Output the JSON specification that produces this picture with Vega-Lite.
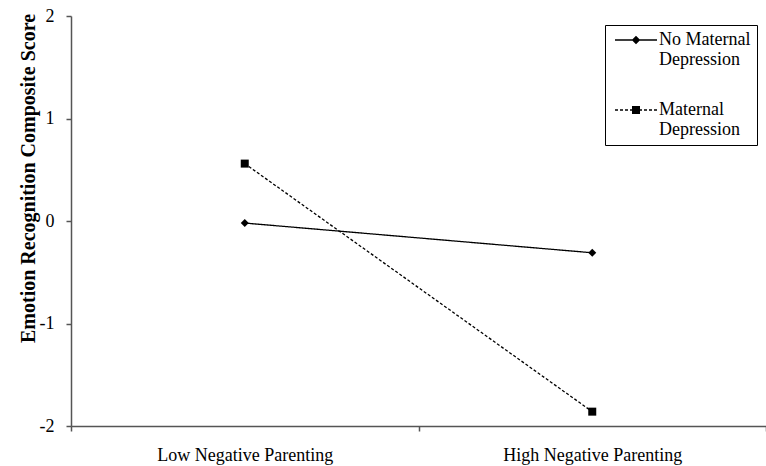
{
  "$schema": "https://vega.github.io/schema/vega-lite/v6.json",
  "width": 695,
  "height": 410,
  "autosize": {"type": "none"},
  "padding": {"left": 71, "top": 16, "right": 0, "bottom": 40},
  "background": "white",
  "config": {
    "view": {"stroke": null},
    "font": "Liberation Serif",
    "axis": {"labelFont": "Liberation Serif", "titleFont": "Liberation Serif", "labelColor": "black", "titleColor": "black", "domainColor": "#555", "tickColor": "#555", "domainWidth": 1.5, "tickWidth": 1.5},
    "legend": {"labelFont": "Liberation Serif"}
  },
  "data": {
    "values": [
      {"parenting": "Low Negative Parenting", "group": "No Maternal Depression", "score": -0.02},
      {"parenting": "High Negative Parenting", "group": "No Maternal Depression", "score": -0.31},
      {"parenting": "Low Negative Parenting", "group": "Maternal Depression", "score": 0.56},
      {"parenting": "High Negative Parenting", "group": "Maternal Depression", "score": -1.86}
    ]
  },
  "encoding": {
    "x": {
      "field": "parenting",
      "type": "nominal",
      "sort": ["Low Negative Parenting", "High Negative Parenting"],
      "scale": {"type": "band", "paddingInner": 0, "paddingOuter": 0},
      "axis": {"title": null, "labelAngle": 0, "labelFontSize": 18, "labelPadding": 15, "tickSize": 5, "tickBand": "extent", "grid": false}
    },
    "y": {
      "field": "score",
      "type": "quantitative",
      "scale": {"domain": [-2, 2], "nice": false, "zero": false},
      "axis": {
        "values": [-2, -1, 0, 1, 2],
        "grid": false,
        "tickSize": 5,
        "labelPadding": 12,
        "labelFontSize": 18,
        "labelExpr": "'' + datum.value",
        "title": "Emotion Recognition Composite Score",
        "titleFontSize": 20,
        "titleFontWeight": "bold",
        "titleAngle": -90,
        "titleX": -43,
        "titleY": 162,
        "titleAlign": "center",
        "titleBaseline": "middle"
      }
    }
  },
  "layer": [
    {
      "mark": {"type": "line", "color": "black", "strokeWidth": 1.3},
      "encoding": {
        "detail": {"field": "group", "type": "nominal"},
        "strokeDash": {"condition": {"test": "datum.group == 'Maternal Depression'", "value": [3, 2]}, "value": [1, 0]}
      }
    },
    {
      "mark": {"type": "point", "filled": true, "color": "black", "opacity": 1, "size": 64},
      "encoding": {
        "shape": {"condition": {"test": "datum.group == 'Maternal Depression'", "value": "square"}, "value": "diamond"}
      }
    },
    {
      "mark": {"type": "point", "filled": true, "color": "black", "opacity": 0},
      "encoding": {
        "shape": {
          "field": "group",
          "type": "nominal",
          "scale": {
            "domain": ["No Maternal Depression", "Maternal Depression"],
            "range": [
              "M-4.2,-0.13L4.2,-0.13L4.2,0.13L-4.2,0.13ZM0,-0.85L0.85,0L0,0.85L-0.85,0Z",
              "M-4.2,-0.13L-3.6,-0.13L-3.6,0.13L-4.2,0.13ZM-3.2,-0.13L-2.6,-0.13L-2.6,0.13L-3.2,0.13ZM-2.2,-0.13L-1.6,-0.13L-1.6,0.13L-2.2,0.13ZM-1.2,-0.13L-0.6,-0.13L-0.6,0.13L-1.2,0.13ZM0.6,-0.13L1.2,-0.13L1.2,0.13L0.6,0.13ZM1.6,-0.13L2.2,-0.13L2.2,0.13L1.6,0.13ZM2.6,-0.13L3.2,-0.13L3.2,0.13L2.6,0.13ZM3.6,-0.13L4.2,-0.13L4.2,0.13L3.6,0.13ZM-0.8,-0.8L0.8,-0.8L0.8,0.8L-0.8,0.8Z"
            ]
          },
          "legend": {
            "title": null,
            "orient": "none",
            "legendX": 534,
            "legendY": 9,
            "strokeColor": "black",
            "fillColor": "white",
            "padding": 6,
            "rowPadding": 32,
            "symbolSize": 100,
            "symbolOffset": 16,
            "symbolOpacity": 1,
            "symbolFillColor": "black",
            "labelFont": "Liberation Serif",
            "labelFontSize": 18,
            "labelOffset": 14,
            "labelLimit": 200,
            "labelExpr": "datum.label == 'No Maternal Depression' ? ['No Maternal', 'Depression'] : ['Maternal', 'Depression']"
          }
        }
      }
    }
  ]
}
